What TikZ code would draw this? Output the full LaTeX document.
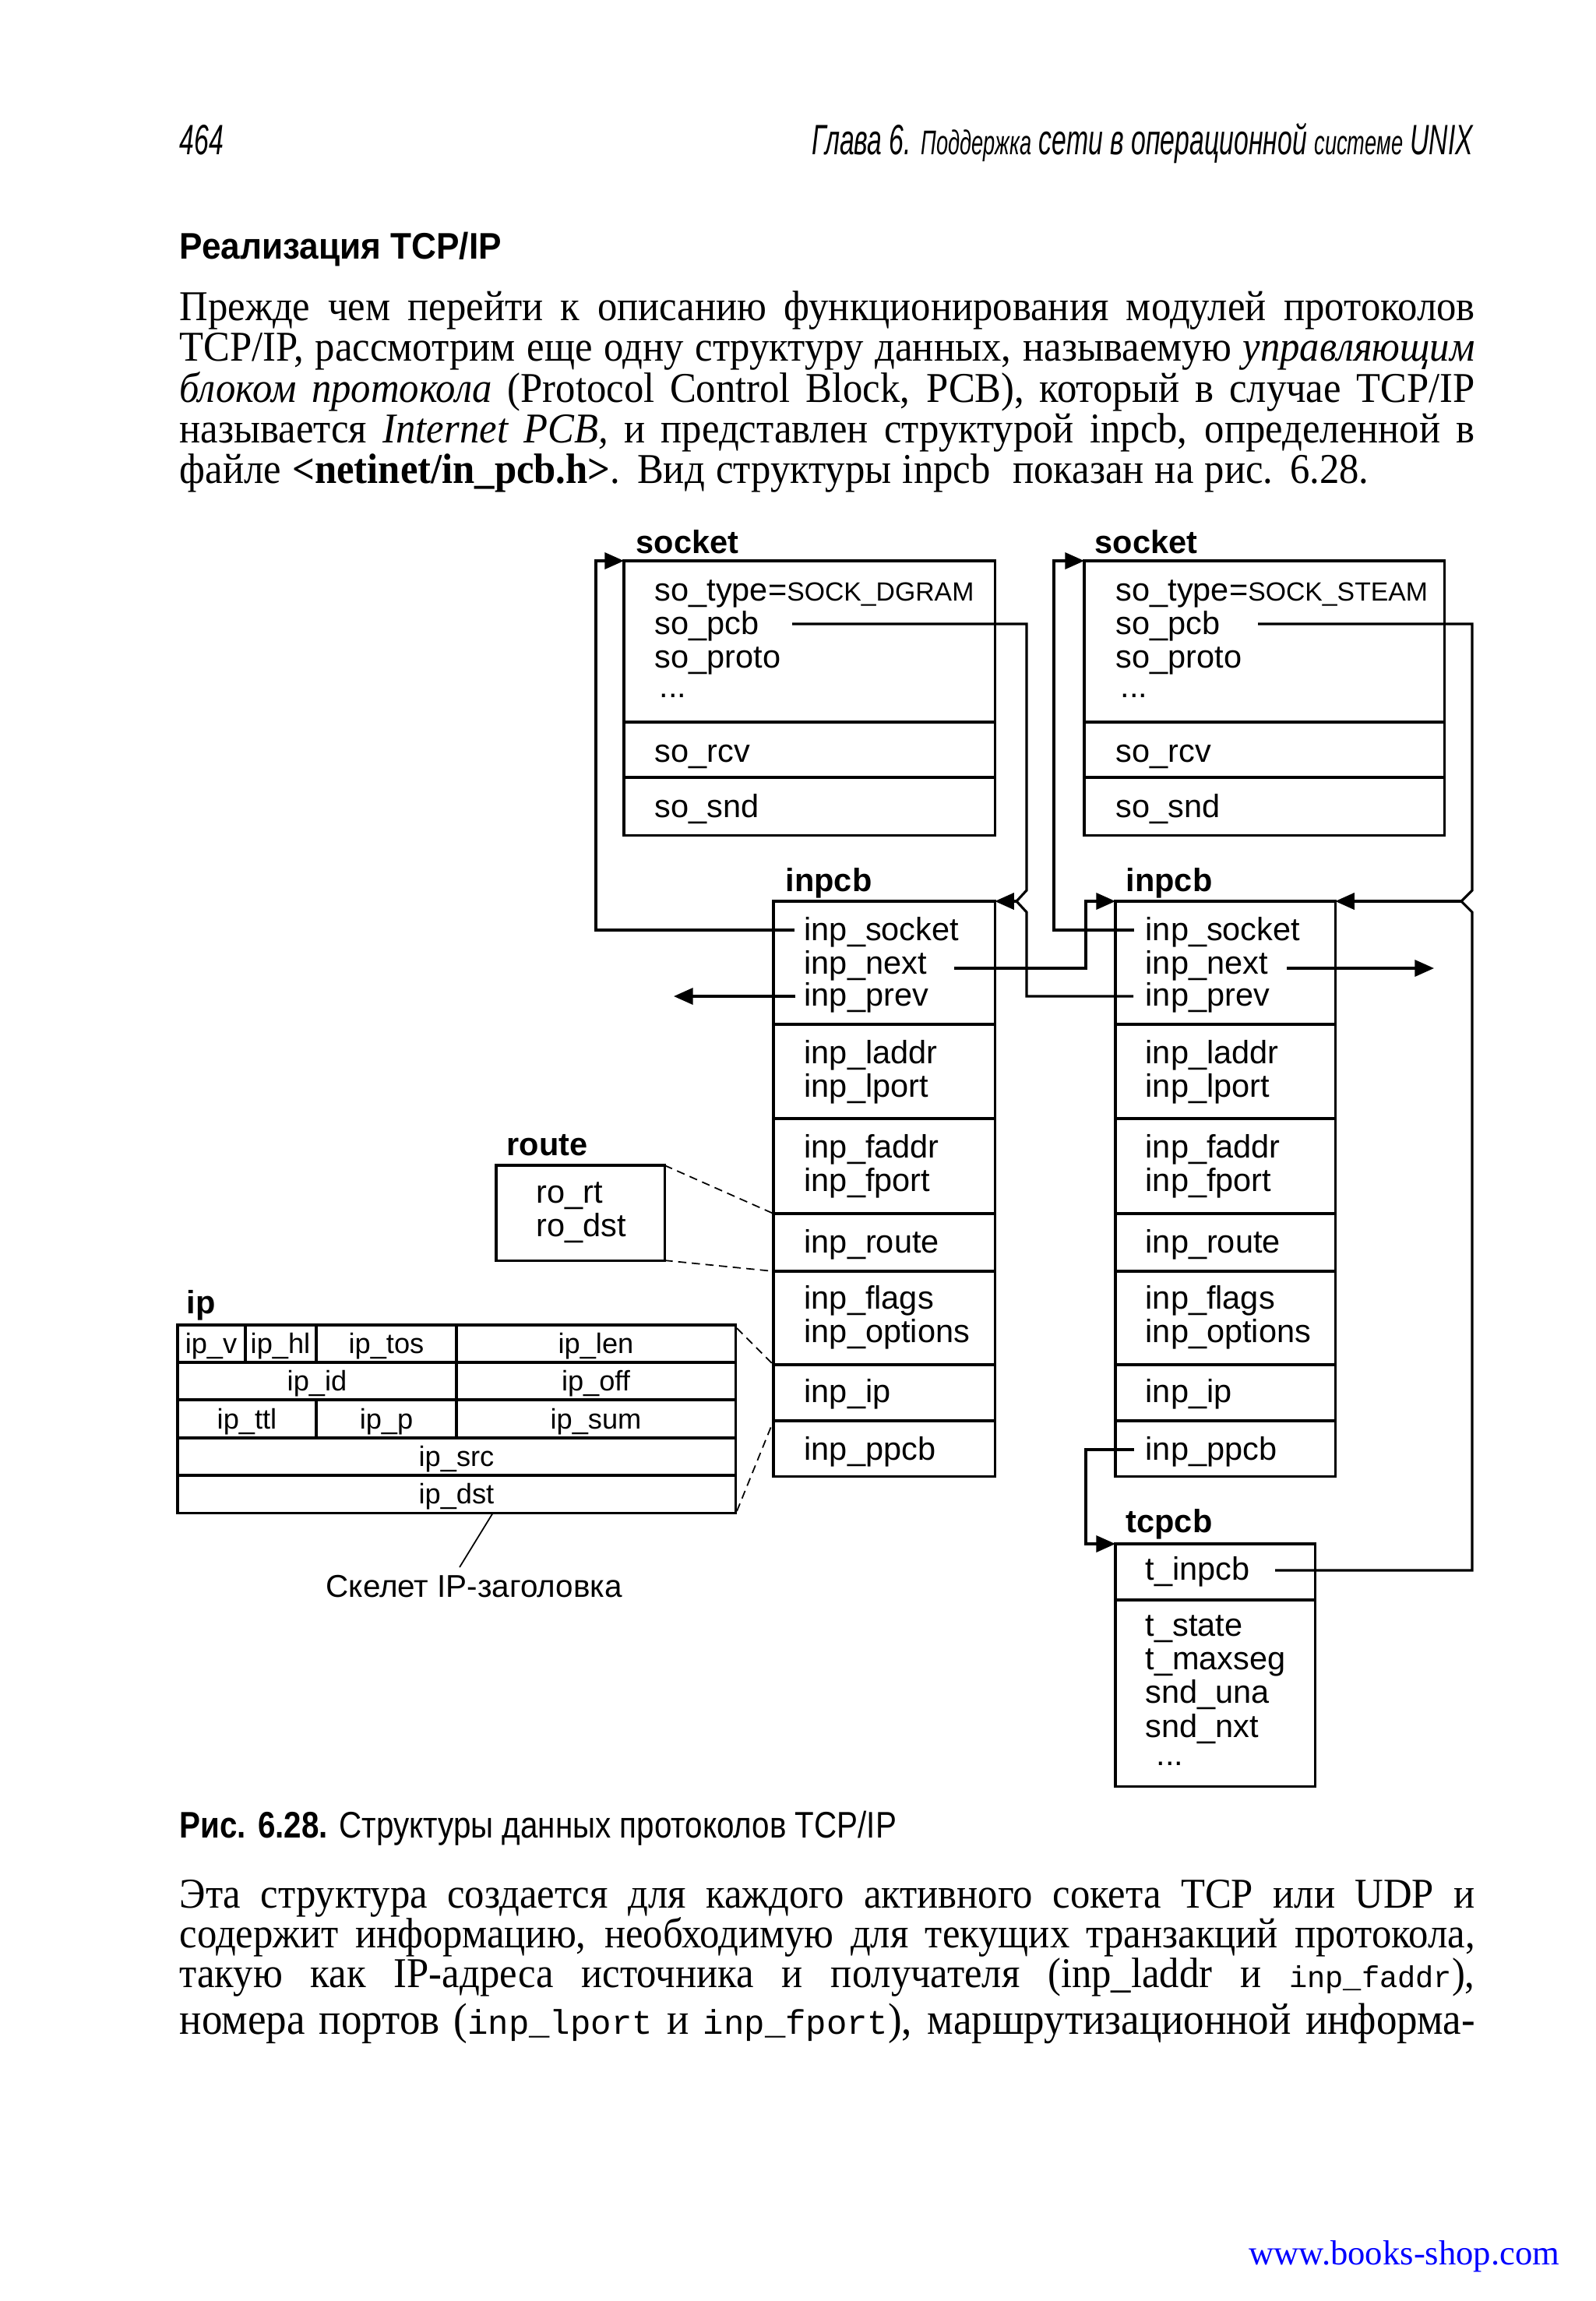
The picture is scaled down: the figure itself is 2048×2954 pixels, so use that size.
\documentclass[tikz,border=0pt]{standalone}
\usepackage{fontspec}
\setmainfont[FakeStretch=0.93]{Liberation Serif}
\newfontfamily\urlfam{Liberation Serif}
\newfontfamily\dsfam{Liberation Sans}
\newfontfamily\hdrfam[FakeStretch=0.62]{Liberation Sans}
\newfontfamily\ttlfam[FakeStretch=0.93]{Liberation Sans}
\newfontfamily\capfam[FakeStretch=0.85]{Liberation Sans}
\newfontfamily\ttfam{Liberation Mono}
\usetikzlibrary{arrows.meta}
\newcommand{\dgfont}{\dsfam\fontsize{11.8}{14}\selectfont}
\newcommand{\ipfont}{\dsfam\fontsize{10.3}{12}\selectfont}
\newcommand{\sockcap}[1]{{\fontsize{9.6}{12}\selectfont #1}}
\newcommand{\bodyfont}{\fontsize{15.5}{17}\selectfont}
\newcommand{\jline}[1]{\makebox[16.62cm][s]{#1}}
\begin{document}
\begin{tikzpicture}[x=0.01cm,y=-0.01cm,
 bx/.style={draw,line width=0.9pt,inner sep=0pt,outer sep=0pt,anchor=north west},
 ln/.style={line width=0.9pt},
 arr/.style={line width=0.9pt,-{Triangle[length=7pt,width=6pt]}},
 dsh/.style={line width=0.5pt,dash pattern=on 3pt off 2pt},
 thinln/.style={line width=0.5pt},
 fld/.style={anchor=base west,inner sep=0pt,font=\dgfont},
 ttl/.style={anchor=base west,inner sep=0pt,font=\dgfont\bfseries},
 ipc/.style={anchor=base,inner sep=0pt,font=\ipfont},
 txt/.style={anchor=base west,inner sep=0pt,font=\bodyfont}]
\useasboundingbox (0,0) rectangle (2048,2954);
\fill[white] (0,0) rectangle (2048,2954);

% running head
\node[anchor=base west,inner sep=0pt,font=\hdrfam\itshape\fontsize{15.5}{18}\selectfont] (pgno) at (230,198) {464};
\node[anchor=base east,inner sep=0pt,font=\hdrfam\itshape\fontsize{15.5}{18}\selectfont] (runhead) at (1892,198) {Глава 6. {\fontsize{12.5}{15}\selectfont Поддержка} сети в операционной {\fontsize{12.5}{15}\selectfont системе} UNIX};

% section title
\node[anchor=base west,inner sep=0pt,font=\ttlfam\bfseries\fontsize{13.5}{16}\selectfont] (title) at (230,332) {Реализация TCP/IP};

% first paragraph
\node[txt] (p1) at (230,411) {\jline{Прежде чем перейти к описанию функционирования модулей протоколов}};
\node[txt] (p2) at (230,463) {\jline{TCP/IP, рассмотрим еще одну структуру данных, называемую \textit{управляющим}}};
\node[txt] (p3) at (230,516) {\jline{\textit{блоком протокола} (Protocol Control Block, PCB), который в случае TCP/IP}};
\node[txt] (p4) at (230,568) {\jline{называется \textit{Internet PCB,} и представлен структурой inpcb, определенной в}};
\node[txt] (p5) at (230,620) {\makebox[15.26cm][s]{файле \textbf{<netinet/in\_pcb.h>}. Вид структуры inpcb \ показан на рис. 6.28.}};

% boxes
\node[bx,minimum width=4.76cm,minimum height=3.52cm] (Lsock) at (801,720) {};
\node[bx,minimum width=4.62cm,minimum height=3.52cm] (Rsock) at (1392,720) {};
\node[bx,minimum width=2.84cm,minimum height=7.38cm] (Linp) at (993,1157) {};
\node[bx,minimum width=2.82cm,minimum height=7.38cm] (Rinp) at (1432,1157) {};
\node[bx,minimum width=2.16cm,minimum height=1.22cm] (route) at (637,1496) {};
\node[bx,minimum width=2.56cm,minimum height=3.11cm] (tcp) at (1432,1982) {};
\node[bx,minimum width=7.16cm,minimum height=2.41cm] (iphdr) at (228,1701) {};

% dividers
\foreach \y in {927,998} { \draw[ln] (801,\y) -- (1277,\y); \draw[ln] (1392,\y) -- (1854,\y); }
\foreach \y in {1315,1436,1558,1632,1752,1824} { \draw[ln] (993,\y) -- (1277,\y); \draw[ln] (1432,\y) -- (1714,\y); }
\draw[ln] (1432,2054) -- (1688,2054);
\foreach \y in {1749,1797,1846,1894} \draw[ln] (228,\y) -- (944,\y);
\draw[ln] (315,1701) -- (315,1749);
\draw[ln] (406,1701) -- (406,1749);
\draw[ln] (406,1797) -- (406,1846);
\draw[ln] (586,1701) -- (586,1846);

% left socket
\node[ttl] (LsockT) at (816,710) {socket};
\node[fld] (Ls1) at (840,771) {so\_type=\sockcap{SOCK\_DGRAM}};
\node[fld] (Ls2) at (840,814) {so\_pcb};
\node[fld] (Ls3) at (840,857) {so\_proto};
\node[fld] (Ls4) at (846,895) {...};
\node[fld] (Ls5) at (840,978) {so\_rcv};
\node[fld] (Ls6) at (840,1049) {so\_snd};

% right socket
\node[ttl] (RsockT) at (1405,710) {socket};
\node[fld] (Rs1) at (1432,771) {so\_type=\sockcap{SOCK\_STEAM}};
\node[fld] (Rs2) at (1432,814) {so\_pcb};
\node[fld] (Rs3) at (1432,857) {so\_proto};
\node[fld] (Rs4) at (1438,895) {...};
\node[fld] (Rs5) at (1432,978) {so\_rcv};
\node[fld] (Rs6) at (1432,1049) {so\_snd};

% left inpcb
\node[ttl] (LinpT) at (1008,1144) {inpcb};
\node[fld] (Li1) at (1032,1207) {inp\_socket};
\node[fld] (Li2) at (1032,1250) {inp\_next};
\node[fld] (Li3) at (1032,1291) {inp\_prev};
\node[fld] (Li4) at (1032,1365) {inp\_laddr};
\node[fld] (Li5) at (1032,1408) {inp\_lport};
\node[fld] (Li6) at (1032,1486) {inp\_faddr};
\node[fld] (Li7) at (1032,1529) {inp\_fport};
\node[fld] (Li8) at (1032,1608) {inp\_route};
\node[fld] (Li9) at (1032,1680) {inp\_flags};
\node[fld] (Li10) at (1032,1723) {inp\_options};
\node[fld] (Li11) at (1032,1800) {inp\_ip};
\node[fld] (Li12) at (1032,1874) {inp\_ppcb};

% right inpcb
\node[ttl] (RinpT) at (1445,1144) {inpcb};
\node[fld] (Ri1) at (1470,1207) {inp\_socket};
\node[fld] (Ri2) at (1470,1250) {inp\_next};
\node[fld] (Ri3) at (1470,1291) {inp\_prev};
\node[fld] (Ri4) at (1470,1365) {inp\_laddr};
\node[fld] (Ri5) at (1470,1408) {inp\_lport};
\node[fld] (Ri6) at (1470,1486) {inp\_faddr};
\node[fld] (Ri7) at (1470,1529) {inp\_fport};
\node[fld] (Ri8) at (1470,1608) {inp\_route};
\node[fld] (Ri9) at (1470,1680) {inp\_flags};
\node[fld] (Ri10) at (1470,1723) {inp\_options};
\node[fld] (Ri11) at (1470,1800) {inp\_ip};
\node[fld] (Ri12) at (1470,1874) {inp\_ppcb};

% route
\node[ttl] (routeT) at (650,1483) {route};
\node[fld] (ro1) at (688,1544) {ro\_rt};
\node[fld] (ro2) at (688,1587) {ro\_dst};

% tcpcb
\node[ttl] (tcpT) at (1445,1967) {tcpcb};
\node[fld] (t1) at (1470,2028) {t\_inpcb};
\node[fld] (t2) at (1470,2100) {t\_state};
\node[fld] (t3) at (1470,2143) {t\_maxseg};
\node[fld] (t4) at (1470,2186) {snd\_una};
\node[fld] (t5) at (1470,2230) {snd\_nxt};
\node[fld] (t6) at (1484,2266) {...};

% ip header
\node[ttl] (ipT) at (239,1686) {ip};
\node[ipc] (ipv) at (271,1737) {ip\_v};
\node[ipc] (iphl) at (360,1737) {ip\_hl};
\node[ipc] (iptos) at (496,1737) {ip\_tos};
\node[ipc] (iplen) at (765,1737) {ip\_len};
\node[ipc] (ipid) at (407,1785) {ip\_id};
\node[ipc] (ipoff) at (765,1785) {ip\_off};
\node[ipc] (ipttl) at (317,1834) {ip\_ttl};
\node[ipc] (ipp) at (496,1834) {ip\_p};
\node[ipc] (ipsum) at (765,1834) {ip\_sum};
\node[ipc] (ipsrc) at (586,1882) {ip\_src};
\node[ipc] (ipdst) at (586,1930) {ip\_dst};
\node[anchor=base west,inner sep=0pt,font=\dsfam\fontsize{11.5}{14}\selectfont] (skel) at (418,2050) {Скелет IP-заголовка};

% free ends of connectors
\coordinate (cLloop) at (1020,1194);
\coordinate (cRloop) at (1456,1194);
\coordinate (cLpcb) at (1017,801);
\coordinate (cRpcb) at (1615,801);
\coordinate (cRprev) at (1455,1279);
\coordinate (cLnext) at (1225,1243);
\coordinate (cRnext) at (1652,1243);
\coordinate (cRnextEnd) at (1841,1243);
\coordinate (cLprev) at (1021,1279);
\coordinate (cLprevEnd) at (865,1279);
\coordinate (cTinp) at (1637,2016);
\coordinate (cPpcb) at (1456,1861);
\coordinate (cLbump) at (1305,1157);
\coordinate (cRbump) at (1876,1157);

% connectors
\draw[arr] (cLloop) -| (765,720) -- (Lsock.north west);
\draw[arr] (cRloop) -| (1353,720) -- (Rsock.north west);
\draw[ln] (cLpcb) -| (1318,1143) -- (cLbump);
\draw[ln] (cRprev) -| (1318,1171) -- (cLbump);
\draw[arr] (cLbump) -- (Linp.north east);
\draw[ln] (cRpcb) -| (1890,1143) -- (cRbump);
\draw[ln] (cTinp) -| (1890,1171) -- (cRbump);
\draw[arr] (cRbump) -- (Rinp.north east);
\draw[arr] (cLnext) -| (1394,1157) -- (Rinp.north west);
\draw[arr] (cRnext) -- (cRnextEnd);
\draw[arr] (cLprev) -- (cLprevEnd);
\draw[arr] (cPpcb) -| (1394,1982) -- (tcp.north west);

% dashed links
\draw[dsh] (route.north east) -- (993,1558);
\draw[dsh] (route.south east) -- (993,1632);
\draw[dsh] (946,1705) -- (993,1752);
\draw[dsh] (946,1940) -- (993,1824);
\draw[thinln] (633,1942) -- (590,2012);

% caption
\node[anchor=base west,inner sep=0pt,font=\capfam\fontsize{13.5}{16}\selectfont] (cap) at (230,2359) {\textbf{Рис. 6.28.} Структуры данных протоколов TCP/IP};

% second paragraph
\node[txt] (q1) at (230,2449) {\jline{Эта структура создается для каждого активного сокета TCP или UDP и}};
\node[txt] (q2) at (230,2500) {\jline{содержит информацию, необходимую для текущих транзакций протокола,}};
\node[txt] (q3) at (230,2551) {\jline{такую как IP-адреса источника и получателя (inp\_laddr и {\ttfam\fontsize{11}{13}\selectfont inp\_faddr}),}};
\node[anchor=base west,inner sep=0pt,font=\fontsize{16.2}{18}\selectfont] (q4) at (230,2611) {\jline{номера портов ({\ttfam\fontsize{12.5}{15}\selectfont inp\_lport} и {\ttfam\fontsize{12.5}{15}\selectfont inp\_fport}), маршрутизационной информа-}};

% watermark
\node[anchor=base east,inner sep=0pt,font=\urlfam\fontsize{12.7}{15}\selectfont,text=blue] (url) at (2003,2907) {www.books-shop.com};
\end{tikzpicture}
\end{document}
